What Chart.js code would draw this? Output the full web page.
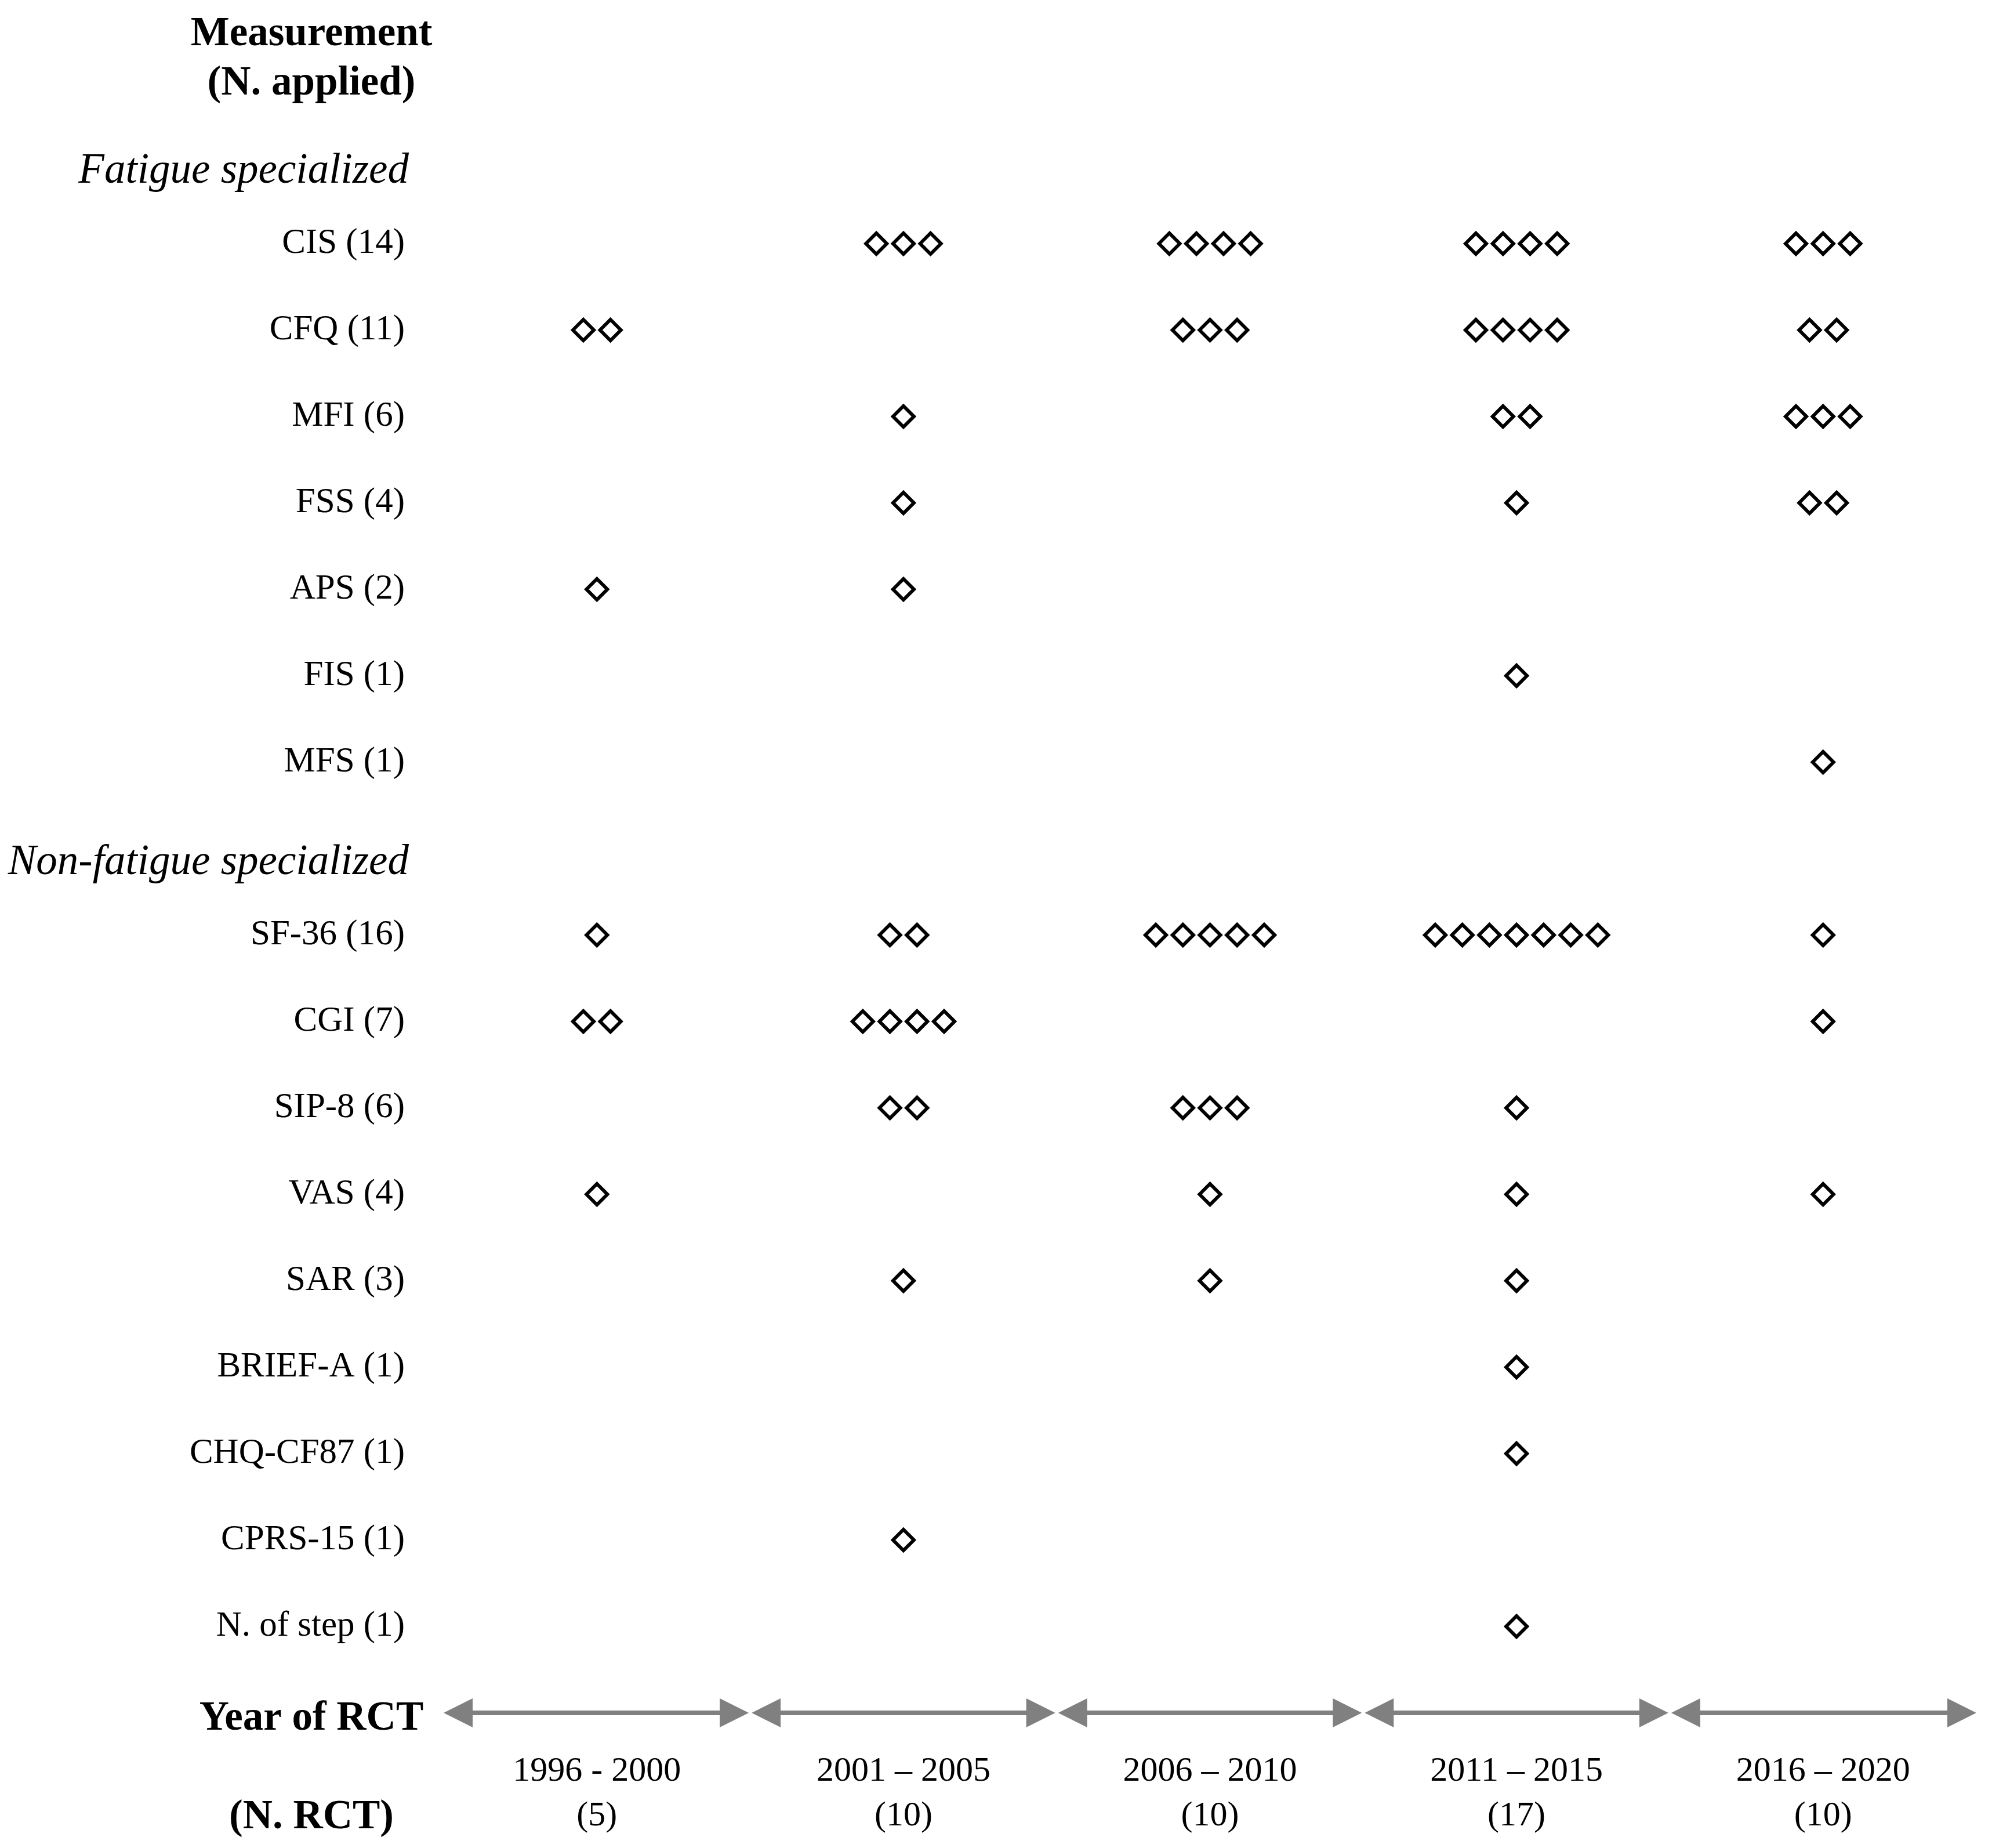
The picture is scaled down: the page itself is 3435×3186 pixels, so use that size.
<!DOCTYPE html>
<html>
<head>
<meta charset="utf-8">
<script src="https://cdn.jsdelivr.net/npm/chart.js@4.4.1/dist/chart.umd.min.js"></script>
<style>
html,body{margin:0;padding:0;background:#fff;}
canvas{display:block;}
</style>
</head>
<body>
<canvas id="c" width="3435" height="3186"></canvas>
<script>
// ---------------- DATA ----------------
const periods = ["1996 - 2000", "2001 \u2013 2005", "2006 \u2013 2010", "2011 \u2013 2015", "2016 \u2013 2020"];
const rctCounts = [5, 10, 10, 17, 10];

const fatigueMeasures = ["CIS (14)", "CFQ (11)", "MFI (6)", "FSS (4)", "APS (2)", "FIS (1)", "MFS (1)"];
const fatigueCounts = [
  [0, 3, 4, 4, 3],
  [2, 0, 3, 4, 2],
  [0, 1, 0, 2, 3],
  [0, 1, 0, 1, 2],
  [1, 1, 0, 0, 0],
  [0, 0, 0, 1, 0],
  [0, 0, 0, 0, 1]
];

const nonFatigueMeasures = ["SF-36 (16)", "CGI (7)", "SIP-8 (6)", "VAS (4)", "SAR (3)", "BRIEF-A (1)", "CHQ-CF87 (1)", "CPRS-15 (1)", "N. of step (1)"];
const nonFatigueCounts = [
  [1, 2, 5, 7, 1],
  [2, 4, 0, 0, 1],
  [0, 2, 3, 1, 0],
  [1, 0, 1, 1, 1],
  [0, 1, 1, 1, 0],
  [0, 0, 0, 1, 0],
  [0, 0, 0, 1, 0],
  [0, 1, 0, 0, 0],
  [0, 0, 0, 1, 0]
];

const groupTitles = ["Fatigue specialized", "Non-fatigue specialized"];
const rowHeader = ["Measurement", "(N. applied)"];
const axisHeader = ["Year of RCT", "(N. RCT)"];

// ---------------- LAYOUT / STYLE ----------------
const FONT = '"Liberation Serif", "Times New Roman", serif';
const STEP = 0.0884;            // spacing between adjacent diamonds, in column units
const GROUP_GAP = 1;            // empty row between the two groups
const L = {
  headerX: 537, groupRightX: 705,
  rowHeaderY: [-2.295, -1.725],
  groupTitleOffset: -0.705,      // relative to first row of each group
  axisRow: 17, axisHeaderY: [17.195, 18.336]
};

// row indices
const rowLabelMap = {};
const points = [];
const groupStart = [0, fatigueMeasures.length + GROUP_GAP];
function addGroup(names, counts, start) {
  names.forEach((name, r) => {
    const row = start + r;
    rowLabelMap[row] = name;
    counts[r].forEach((n, c) => {
      for (let k = 0; k < n; k++) {
        points.push({ x: c + (k - (n - 1) / 2) * STEP, y: row });
      }
    });
  });
}
addGroup(fatigueMeasures, fatigueCounts, groupStart[0]);
addGroup(nonFatigueMeasures, nonFatigueCounts, groupStart[1]);
const rowValues = Object.keys(rowLabelMap).map(Number);

const decor = {
  id: 'decor',
  afterDraw(chart) {
    const ctx = chart.ctx, xs = chart.scales.x, ys = chart.scales.y;
    ctx.save();
    // arrows
    const ay = ys.getPixelForValue(L.axisRow);
    ctx.fillStyle = '#808080';
    ctx.strokeStyle = '#808080';
    ctx.lineWidth = 8;
    const head = 50, half = 25, gap = 2.5;
    periods.forEach((p, i) => {
      const x0 = xs.getPixelForValue(i - 0.5) + (i === 0 ? 0 : gap);
      const x1 = xs.getPixelForValue(i + 0.5) - (i === periods.length - 1 ? 0 : gap);
      ctx.beginPath();
      ctx.moveTo(x0 + head - 2, ay);
      ctx.lineTo(x1 - head + 2, ay);
      ctx.stroke();
      ctx.beginPath();
      ctx.moveTo(x0, ay); ctx.lineTo(x0 + head, ay - half); ctx.lineTo(x0 + head, ay + half); ctx.closePath();
      ctx.fill();
      ctx.beginPath();
      ctx.moveTo(x1, ay); ctx.lineTo(x1 - head, ay - half); ctx.lineTo(x1 - head, ay + half); ctx.closePath();
      ctx.fill();
    });
    // bold headers
    ctx.fillStyle = '#000';
    ctx.textAlign = 'center';
    ctx.textBaseline = 'alphabetic';
    ctx.font = 'bold 71px ' + FONT;
    rowHeader.forEach((t, i) => ctx.fillText(t, L.headerX, ys.getPixelForValue(L.rowHeaderY[i])));
    axisHeader.forEach((t, i) => ctx.fillText(t, L.headerX, ys.getPixelForValue(L.axisHeaderY[i])));
    // group titles
    ctx.textAlign = 'right';
    ctx.font = 'italic 73px ' + FONT;
    groupTitles.forEach((t, g) => ctx.fillText(t, L.groupRightX, ys.getPixelForValue(groupStart[g] + L.groupTitleOffset)));
    ctx.restore();
  }
};

new Chart(document.getElementById('c'), {
  type: 'scatter',
  data: {
    datasets: [{
      data: points,
      pointStyle: 'rectRot',
      pointRadius: 18,
      pointBorderWidth: 6,
      pointBorderColor: '#000',
      pointBackgroundColor: '#fff',
      showLine: false,
      clip: false
    }]
  },
  options: {
    responsive: false,
    devicePixelRatio: 1,
    animation: false,
    events: [],
    layout: { padding: { top: 122, right: 27, bottom: 0, left: 0 } },
    plugins: { legend: { display: false }, tooltip: { enabled: false } },
    scales: {
      x: {
        type: 'linear', min: -0.5, max: 4.5, position: 'bottom',
        grid: { display: false, drawTicks: false }, border: { display: false },
        afterBuildTicks: s => { s.ticks = periods.map((p, i) => ({ value: i })); },
        afterFit: s => { s.height = 233; },
        ticks: {
          autoSkip: false, maxRotation: 0, minRotation: 0, padding: 63, color: '#000',
          font: { family: FONT, size: 60, lineHeight: 1.283 },
          callback: v => [periods[v], '(' + rctCounts[v] + ')']
        }
      },
      y: {
        type: 'linear', min: -2, max: L.axisRow, reverse: true, position: 'left',
        grid: { display: false, drawTicks: false }, border: { display: false },
        afterBuildTicks: s => { s.ticks = rowValues.map(v => ({ value: v })); },
        afterFit: s => { s.width = 765; },
        ticks: {
          autoSkip: false, padding: 67, color: '#000',
          font: { family: FONT, size: 61 },
          callback: v => rowLabelMap[v]
        }
      }
    }
  },
  plugins: [decor]
});
</script>
</body>
</html>
